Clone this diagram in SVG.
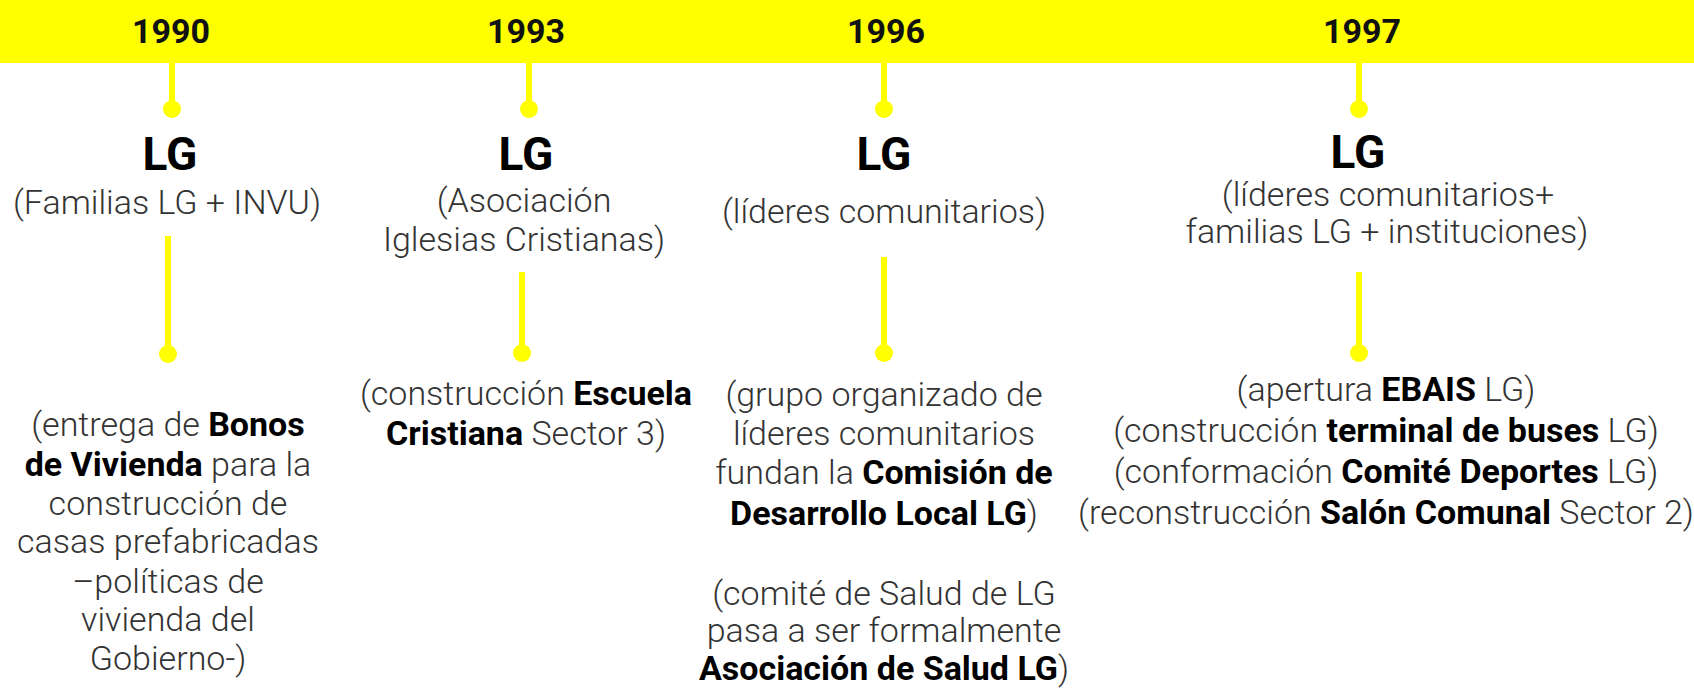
<svg xmlns="http://www.w3.org/2000/svg" width="1694" height="689" viewBox="0 0 1694 689">
<style>
.yr{font-family:Roboto,"Liberation Sans",sans-serif;font-weight:700;font-size:34px;fill:#111;text-anchor:middle}
.lg{font-family:Roboto,"Liberation Sans",sans-serif;font-weight:700;font-size:46px;fill:#000;text-anchor:middle}
.t{font-family:Roboto,"Liberation Sans",sans-serif;font-weight:300;font-size:34px;fill:#333;text-anchor:middle}
.b{font-weight:700;fill:#000}
.ln{stroke:#ffff00;stroke-width:6;fill:none}
.dot{fill:#ffff00}
</style>
<rect x="0" y="0" width="1694" height="63" fill="#ffff00"/>
<g id="connectors">
<line class="ln" x1="172" y1="63" x2="172" y2="109"/><circle class="dot" cx="172" cy="109" r="9"/>
<line class="ln" x1="529" y1="63" x2="529" y2="109"/><circle class="dot" cx="529" cy="109" r="9"/>
<line class="ln" x1="884" y1="63" x2="884" y2="109"/><circle class="dot" cx="884" cy="109" r="9"/>
<line class="ln" x1="1359" y1="63" x2="1359" y2="109"/><circle class="dot" cx="1359" cy="109" r="9"/>
<line class="ln" x1="168" y1="236" x2="168" y2="354"/><circle class="dot" cx="168" cy="354" r="9"/>
<line class="ln" x1="522" y1="272" x2="522" y2="353"/><circle class="dot" cx="522" cy="353" r="9"/>
<line class="ln" x1="884" y1="257" x2="884" y2="353"/><circle class="dot" cx="884" cy="353" r="9"/>
<line class="ln" x1="1359" y1="272" x2="1359" y2="353"/><circle class="dot" cx="1359" cy="353" r="9"/>
</g>
<g id="n1990">
<text class="yr" x="171" y="43">1990</text>
<text class="lg" x="170" y="170">LG</text>
<text class="t" x="167" y="214">(Familias LG + INVU)</text>
<text class="t" x="168" y="436">(entrega de <tspan class="b">Bonos</tspan></text>
<text class="t" x="168" y="476"><tspan class="b">de Vivienda</tspan> para la</text>
<text class="t" x="168" y="515">construcción de</text>
<text class="t" x="168" y="553">casas prefabricadas</text>
<text class="t" x="168" y="593">–políticas de</text>
<text class="t" x="168" y="631">vivienda del</text>
<text class="t" x="168" y="670">Gobierno-)</text>
</g>
<g id="n1993">
<text class="yr" x="526" y="43">1993</text>
<text class="lg" x="526" y="170">LG</text>
<text class="t" x="524" y="212">(Asociación</text>
<text class="t" x="524" y="251">Iglesias Cristianas)</text>
<text class="t" x="526" y="405">(construcción <tspan class="b">Escuela</tspan></text>
<text class="t" x="526" y="445"><tspan class="b">Cristiana</tspan> Sector 3)</text>
</g>
<g id="n1996">
<text class="yr" x="886" y="43">1996</text>
<text class="lg" x="884" y="170">LG</text>
<text class="t" x="884" y="223">(líderes comunitarios)</text>
<text class="t" x="884" y="406">(grupo organizado de</text>
<text class="t" x="884" y="445">líderes comunitarios</text>
<text class="t" x="884" y="484">fundan la <tspan class="b">Comisión de</tspan></text>
<text class="t" x="884" y="525"><tspan class="b">Desarrollo Local LG</tspan>)</text>
<text class="t" x="884" y="605">(comité de Salud de LG</text>
<text class="t" x="884" y="642">pasa a ser formalmente</text>
<text class="t" x="884" y="680"><tspan class="b">Asociación de Salud LG</tspan>)</text>
</g>
<g id="n1997">
<text class="yr" x="1362" y="43">1997</text>
<text class="lg" x="1358" y="168">LG</text>
<text class="t" x="1388" y="206">(líderes comunitarios+</text>
<text class="t" x="1387" y="243">familias LG + instituciones)</text>
<text class="t" x="1386" y="401">(apertura <tspan class="b">EBAIS</tspan> LG)</text>
<text class="t" x="1386" y="442">(construcción <tspan class="b">terminal de buses</tspan> LG)</text>
<text class="t" x="1386" y="483">(conformación <tspan class="b">Comité Deportes</tspan> LG)</text>
<text class="t" x="1386" y="524">(reconstrucción <tspan class="b">Salón Comunal</tspan> Sector 2)</text>
</g>
</svg>
